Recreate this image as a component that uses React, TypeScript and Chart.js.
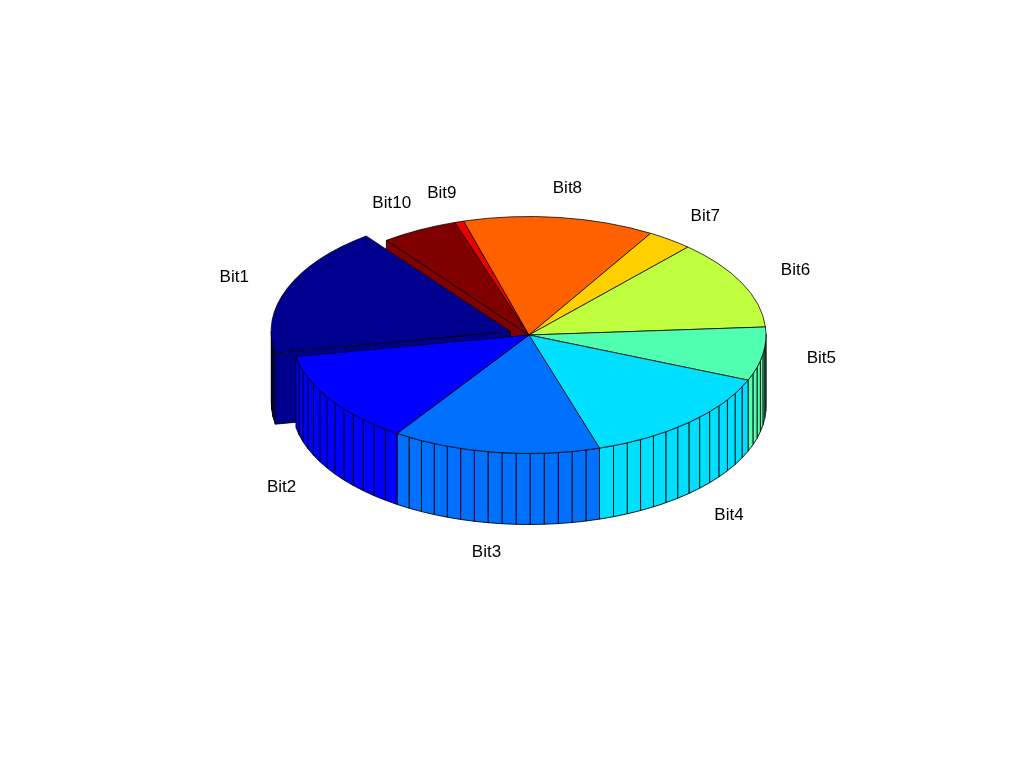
import React, { useEffect, useRef } from 'react';
import Chart from 'chart.js/auto';

const labels = ['Bit1', 'Bit2', 'Bit3', 'Bit4', 'Bit5', 'Bit6', 'Bit7', 'Bit8', 'Bit9', 'Bit10'];
const values = [63.5, 45.7, 51.1, 50.3, 26.3, 44, 11.2, 46.9, 2.2, 18.8];
const colors = ['#00008f', '#0000ff', '#0070ff', '#00dfff', '#50ffaf', '#bfff40', '#ffcf00', '#ff6000', '#ef0000', '#800000'];
const offsets = [80, 0, 0, 0, 0, 0, 0, 0, 0, 0];

const SQUASH = 0.5; // tilt of the pie, top ellipse height / width
const WALL = 71;
const FACET = (3.6 * Math.PI) / 180;
const LABEL_K = 1.25;

// the pie goes counter-clockwise on screen, Chart.js goes clockwise
const rev = <T,>(a: T[]) => [...a].reverse();

function sliceGeom(arc: any, cy: number) {
  const mid = (arc.startAngle + arc.endAngle) / 2;
  const span = arc.endAngle - arc.startAngle;
  const off = (arc.options.offset || 0) / 4;
  const fix = 1 - Math.sin(Math.min(Math.PI, span));
  const ox = arc.x + Math.cos(mid) * off;
  const oy = cy + (arc.y + Math.sin(mid) * off - cy) * SQUASH;
  return { mid, span, off, ox, oy, r: arc.outerRadius + off * fix };
}

function rim(g: any, a: number) {
  return [g.ox + g.r * Math.cos(a), g.oy + g.r * SQUASH * Math.sin(a)];
}

function quad(ctx: CanvasRenderingContext2D, pts: number[][], fill: string) {
  ctx.beginPath();
  pts.forEach((p, i) => (i ? ctx.lineTo(p[0], p[1]) : ctx.moveTo(p[0], p[1])));
  ctx.closePath();
  ctx.fillStyle = fill;
  ctx.fill();
  ctx.stroke();
}

function cutFace(ctx: CanvasRenderingContext2D, g: any, a: number, fill: string) {
  const p = rim(g, a);
  quad(ctx, [[g.ox, g.oy], p, [p[0], p[1] + WALL], [g.ox, g.oy + WALL]], fill);
}

function outerWall(ctx: CanvasRenderingContext2D, g: any, arc: any, fill: string) {
  const n = Math.max(1, Math.ceil(g.span / FACET - 0.01));
  for (let i = 0; i < n; i++) {
    const a0 = arc.startAngle + (g.span * i) / n;
    const a1 = arc.startAngle + (g.span * (i + 1)) / n;
    if (Math.sin((a0 + a1) / 2) < 0) continue;
    const p0 = rim(g, a0);
    const p1 = rim(g, a1);
    quad(ctx, [p0, p1, [p1[0], p1[1] + WALL], [p0[0], p0[1] + WALL]], fill);
  }
}

const pie3dPlugin = {
  id: 'pie3d',
  beforeDatasetsDraw(chart: any) {
    const { ctx } = chart;
    const arcs = chart.getDatasetMeta(0).data;
    const cy = arcs[0].y;
    ctx.save();
    ctx.strokeStyle = 'rgba(0,0,0,0.85)';
    ctx.lineWidth = 1;
    // faces opened up by the exploded slice go first
    arcs.forEach((arc: any, i: number) => {
      if (!arc.options.offset) return;
      const next = arcs[(i + 1) % arcs.length];
      cutFace(ctx, sliceGeom(next, cy), next.startAngle, next.options.backgroundColor);
      cutFace(ctx, sliceGeom(arc, cy), arc.startAngle, arc.options.backgroundColor);
      outerWall(ctx, sliceGeom(arc, cy), arc, arc.options.backgroundColor);
    });
    arcs.forEach((arc: any) => {
      if (arc.options.offset) return;
      outerWall(ctx, sliceGeom(arc, cy), arc, arc.options.backgroundColor);
    });
    ctx.restore();

    // tops are drawn by Chart.js itself, flattened to an ellipse
    ctx.save();
    ctx.translate(0, cy);
    ctx.scale(1, SQUASH);
    ctx.translate(0, -cy);
  },
  afterDatasetsDraw(chart: any) {
    const { ctx } = chart;
    ctx.restore();
    const arcs = chart.getDatasetMeta(0).data;
    const names = chart.data.labels;
    const cy = arcs[0].y;
    ctx.save();
    ctx.font = '17px "Liberation Sans"';
    ctx.fillStyle = '#000';
    ctx.textAlign = 'center';
    ctx.textBaseline = 'middle';
    arcs.forEach((arc: any, i: number) => {
      const g = sliceGeom(arc, cy);
      const s = Math.sin(g.mid);
      const x = g.ox + LABEL_K * arc.outerRadius * Math.cos(g.mid);
      const y = g.oy + LABEL_K * arc.outerRadius * SQUASH * s + (s > 0.5 ? WALL : 0);
      ctx.fillText(names[i], x, y);
    });
    ctx.restore();
  },
};

export default function App() {
  const canvasRef = useRef<HTMLCanvasElement>(null);

  useEffect(() => {
    if (!canvasRef.current) return;
    const chart = new Chart(canvasRef.current, {
      type: 'pie',
      data: {
        labels: rev(labels),
        datasets: [{
          data: rev(values),
          backgroundColor: rev(colors),
          offset: rev(offsets),
          borderColor: '#000',
          borderWidth: 1,
        }],
      },
      options: {
        animation: false,
        responsive: false,
        events: [],
        rotation: 323,
        radius: 237,
        layout: { padding: { left: 34, right: 0, top: 0, bottom: 97 } },
        plugins: { legend: { display: false }, tooltip: { enabled: false } },
      },
      plugins: [pie3dPlugin],
    } as any);
    return () => chart.destroy();
  }, []);

  return (
    <canvas
      ref={canvasRef}
      width={1024}
      height={767}
      style={{ position: 'fixed', left: 0, top: 0, display: 'block', background: '#fff' }}
    />
  );
}
